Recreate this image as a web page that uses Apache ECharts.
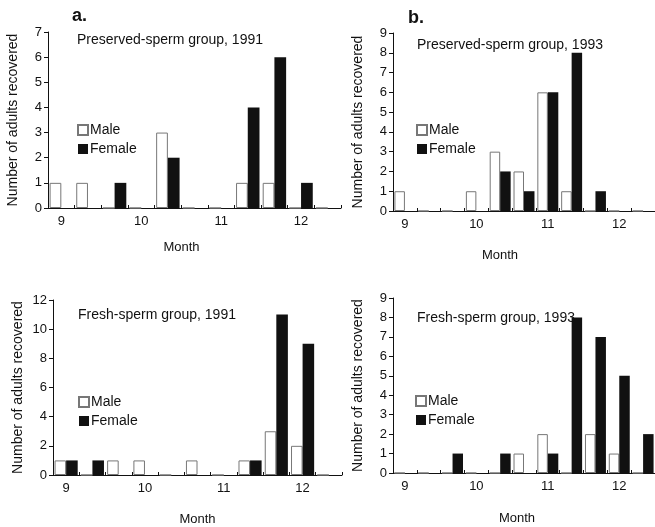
<!DOCTYPE html>
<html>
<head>
<meta charset="utf-8">
<script src="https://cdn.jsdelivr.net/npm/echarts@6/dist/echarts.min.js"></script>
<style>
  html, body { margin: 0; padding: 0; background: #fff; }
  #chart { width: 655px; height: 527px; }
</style>
</head>
<body>
<div id="chart"></div>
<script>
// ten-day periods, Sept to Dec (last one cut off in the original)
const periods = ['9-1', '9-2', '9-3', '10-1', '10-2', '10-3', '11-1', '11-2', '11-3', '12-1', '12-2'];
const monthLabels = ['9', '10', '11', '12'];

// a. preserved-sperm 1991
const maleA = [1, 1, 0, 0, 3, 0, 0, 1, 1, 0, 0];
const femaleA = [0, 0, 1, 0, 2, 0, 0, 4, 6, 1, 0];
// b. preserved-sperm 1993
const maleB = [1, 0, 0, 1, 3, 2, 6, 1, 0, 0, 0];
const femaleB = [0, 0, 0, 0, 2, 1, 6, 8, 1, 0, 0];
// fresh-sperm 1991
const maleC = [1, 0, 1, 1, 0, 1, 0, 1, 3, 2, 0];
const femaleC = [1, 1, 0, 0, 0, 0, 0, 1, 11, 9, 0];
// fresh-sperm 1993
const maleD = [0, 0, 0, 0, 0, 1, 2, 0, 2, 1, 0];
const femaleD = [0, 0, 1, 0, 1, 0, 1, 8, 7, 5, 2];

const yMax = [7, 9, 12, 9];
const yStep = [1, 1, 2, 1];
const panelTitles = ['Preserved-sperm group, 1991', 'Preserved-sperm group, 1993',
  'Fresh-sperm group, 1991', 'Fresh-sperm group, 1993'];

const font = 'Liberation Sans, Arial, sans-serif';
const ink = '#111';

const grids = [
  { left: 48, top: 32, width: 293, height: 176 },
  { left: 393, top: 33, width: 272, height: 178 },
  { left: 53, top: 300, width: 289, height: 176 },
  { left: 393, top: 298, width: 272, height: 175 }
];
// shift of the "Month" name to the left of the axis centre
const monthShift = [26, 48, 0, 14];
const monthGap = [33, 38, 38, 39];

const chart = echarts.init(document.getElementById('chart'));

const xAxes = grids.map((g, i) => ({
  type: 'category',
  gridIndex: i,
  data: periods,
  name: 'Month',
  nameLocation: 'middle',
  nameGap: monthGap[i],
  nameTextStyle: { fontFamily: font, fontSize: 13, color: ink, padding: [0, monthShift[i], 0, 0] },
  axisLine: { lineStyle: { color: ink, width: 1 } },
  axisTick: { show: true, interval: 0, inside: true, length: 3, lineStyle: { color: ink } },
  axisLabel: {
    interval: 0,
    margin: 7,
    fontFamily: font,
    fontSize: 13,
    color: ink,
    formatter: (v, idx) => (idx % 3 === 0 ? monthLabels[idx / 3] : '')
  }
}));

const yAxes = grids.map((g, i) => ({
  type: 'value',
  gridIndex: i,
  min: 0,
  max: yMax[i],
  interval: yStep[i],
  name: 'Number of adults recovered',
  nameLocation: 'middle',
  nameGap: 28,
  nameTextStyle: { fontFamily: font, fontSize: 14, color: ink },
  axisLine: { show: true, lineStyle: { color: ink, width: 1 } },
  axisTick: { show: true, length: 4, lineStyle: { color: ink } },
  axisLabel: { fontFamily: font, fontSize: 13, color: ink, margin: 6 },
  splitLine: { show: false }
}));

const maleData = [maleA, maleB, maleC, maleD];
const femaleData = [femaleA, femaleB, femaleC, femaleD];
const series = [];
for (let i = 0; i < 4; i++) {
  series.push({
    name: 'Male',
    type: 'bar',
    xAxisIndex: i,
    yAxisIndex: i,
    data: maleData[i],
    barGap: '0%',
    barCategoryGap: '12%',
    itemStyle: { color: '#fff', borderColor: '#777', borderWidth: 1 }
  });
  series.push({
    name: 'Female',
    type: 'bar',
    xAxisIndex: i,
    yAxisIndex: i,
    data: femaleData[i],
    barGap: '0%',
    barCategoryGap: '12%',
    itemStyle: { color: ink }
  });
}

const legendPos = [
  { left: 72, top: 118 },
  { left: 411, top: 118 },
  { left: 73, top: 390 },
  { left: 410, top: 389 }
];
const legends = legendPos.map(p => ({
  data: ['Male', 'Female'],
  orient: 'vertical',
  left: p.left,
  top: p.top,
  itemWidth: 10,
  itemHeight: 10,
  itemGap: 5,
  icon: 'rect',
  selectedMode: false,
  textStyle: { fontFamily: font, fontSize: 14, color: ink, padding: [0, 0, 0, -3] }
}));

const titlePos = [
  { left: 73, top: 33 },
  { left: 413, top: 38 },
  { left: 74, top: 308 },
  { left: 413, top: 311 }
];
const titles = titlePos.map((p, i) => ({
  text: panelTitles[i],
  left: p.left,
  top: p.top,
  padding: [0, 4],
  textStyle: { fontFamily: font, fontSize: 14, fontWeight: 'normal', color: ink }
}));
titles.push({ text: 'a.', left: 72, top: 7, padding: 0,
  textStyle: { fontFamily: font, fontSize: 18, fontWeight: 'bold', color: ink } });
titles.push({ text: 'b.', left: 408, top: 9, padding: 0,
  textStyle: { fontFamily: font, fontSize: 18, fontWeight: 'bold', color: ink } });

chart.setOption({
  animation: false,
  title: titles,
  legend: legends,
  grid: grids,
  xAxis: xAxes,
  yAxis: yAxes,
  series: series
});
</script>
</body>
</html>
